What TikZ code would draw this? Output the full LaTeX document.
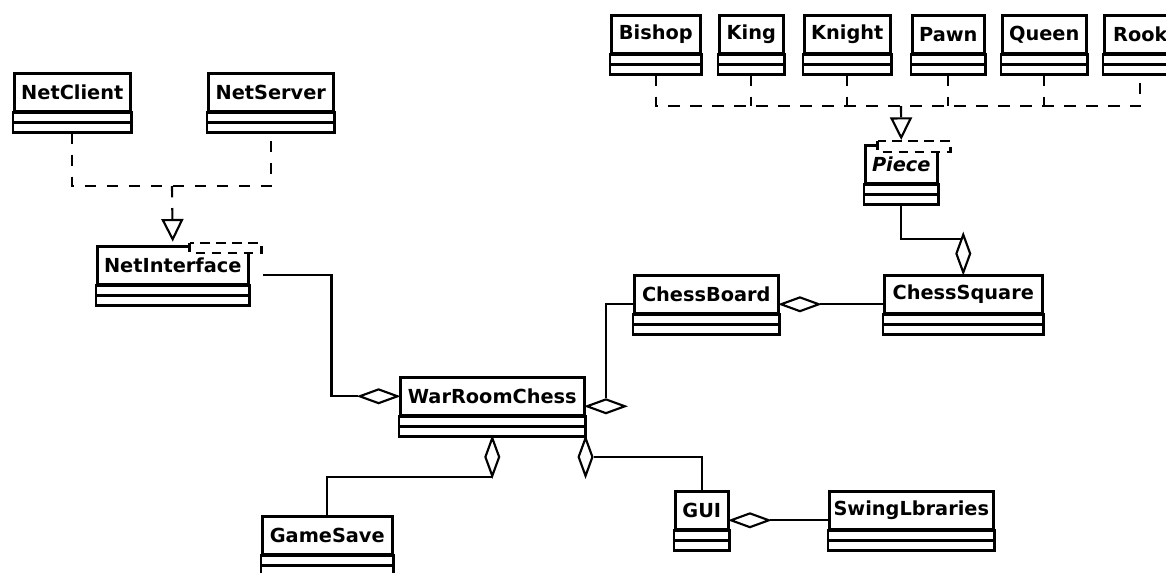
\documentclass[tikz,border=0pt]{standalone}
\usepackage{fontspec}
\setmainfont{DejaVu Sans}
\usepackage{tikz}
\usetikzlibrary{shapes.geometric,arrows.meta,positioning}

% two empty compartments under a class title
\newcommand{\classparts}[1]{%
  \draw[box] (#1.south west) rectangle ([yshift=-15pt]#1.south east);
  \draw[box] ([yshift=-7.5pt]#1.south west) -- ([yshift=-7.5pt]#1.south east);
  \coordinate (#1-b) at ([yshift=-15pt]#1.south);
}

\begin{document}
\begin{tikzpicture}[
    x=0.75pt, y=-0.75pt,
    class/.style={draw, line width=1.9pt, fill=white, font=\bfseries\fontsize{14.5}{17}\selectfont, minimum height=28.5pt, inner sep=1pt, anchor=north west},
    box/.style={line width=1.9pt},
    aggh/.style={diamond, draw, fill=white, line width=1.6pt, inner sep=0pt, minimum width=29pt, minimum height=11pt},
    aggv/.style={aggh, minimum width=11pt, minimum height=29pt},
    link/.style={line width=1.6pt},
    real/.style={link, dash pattern=on 8.5pt off 8pt},
    realarrow/.style={real, shorten >=2.5pt, -{Triangle[open, length=17pt, width=16.5pt]}},
    tmpl/.style={draw, fill=white, line width=1.6pt, dash pattern=on 7pt off 5pt}
]
\useasboundingbox (0,0) rectangle (1166,572);
\clip (0,0) rectangle (1166,572);

% network side
\node[class, minimum width=87pt] (netclient) at (13,72) {NetClient};
\node[class, minimum width=93.75pt] (netserver) at (207,72) {NetServer};
\node[class, minimum width=113.25pt] (ni) at (96,245) {NetInterface};

% pieces
\node[class, minimum width=66.75pt] (bishop) at (610,14) {Bishop};
\node[class, minimum width=48pt] (king) at (718,14) {King};
\node[class, minimum width=64.5pt] (knight) at (803,14) {Knight};
\node[class, minimum width=54pt] (pawn) at (911,14) {Pawn};
\node[class, minimum width=63pt] (queen) at (1001,14) {Queen};
\node[class, minimum width=54pt] (rook) at (1103,14) {Rook};
\node[class, minimum width=54pt] (piece) at (864,144) {\itshape Piece};

% board and game
\node[class, minimum width=108pt] (cb) at (633,274) {ChessBoard};
\node[class, minimum width=118.5pt] (cs) at (883,274) {ChessSquare};
\node[class, minimum width=138pt] (wrc) at (399,376) {WarRoomChess};
\node[class, minimum width=97.5pt] (gamesave) at (261,515) {GameSave};
\node[class, minimum width=39.75pt] (gui) at (674,490) {GUI};
\node[class, minimum width=123pt] (swing) at (828,490) {SwingLbraries};

\foreach \c in {netclient,netserver,ni,bishop,king,knight,pawn,queen,rook,piece,cb,cs,wrc,gamesave,gui,swing}
  {\classparts{\c}}

% template boxes
\draw[tmpl] ([shift={(-45pt,1.5pt)}]ni.north east) rectangle ([shift={(9pt,-6pt)}]ni.north east);
\draw[tmpl] ([shift={(-45.75pt,2.25pt)}]piece.north east) rectangle ([shift={(9pt,-6pt)}]piece.north east);

% realizations
\coordinate (ni-join) at (172,186);
\draw[real] (netclient-b) |- (ni-join) -| (netserver-b);
\draw[realarrow] (ni-join) -- (ni.north);

\coordinate (piece-join) at (901,106);
\draw[real] (bishop-b) |- (piece-join) -| (rook-b);
\foreach \p in {king,knight,pawn,queen}
  \draw[real] (\p-b) -- (\p-b |- piece-join);
\draw[realarrow, shorten >=3pt] (piece-join) -- (piece.north);

% aggregation diamonds
\node[aggh, anchor=east] (wrc-ni) at (wrc.west) {};
\node[aggh, anchor=west] (wrc-cb) at ([yshift=-7.5pt]wrc.east) {};
\node[aggv, anchor=north] (wrc-gs) at (wrc-b) {};
\node[aggv, anchor=north] (wrc-gui) at ([yshift=-15pt]wrc.south east) {};
\node[aggh, anchor=west] (cb-cs) at ([yshift=-7.5pt]cb.east) {};
\node[aggv, anchor=south] (cs-piece) at (cs.north) {};
\node[aggh, anchor=west] (gui-sw) at ([yshift=-7.5pt]gui.east) {};

% aggregation lines
\coordinate (ni-out) at ([shift={(9.75pt,-7.5pt)}]ni.east);
\draw[link] (wrc-ni.west) -| ([xshift=51.75pt]ni-out) -- (ni-out);
\draw[link] (wrc-cb.north) |- ([yshift=-7.5pt]cb.west);
\draw[link] (wrc-gs.south) -| (gamesave.north);
\draw[link] (wrc-gui.east) -| (gui.north);
\draw[link] (cb-cs.east) -- ([yshift=-7.5pt]cs.west);
\draw[link] (piece-b) |- (cs-piece.100);
\draw[link] (gui-sw.east) -- ([yshift=-7.5pt]swing.west);

\end{tikzpicture}
\end{document}
